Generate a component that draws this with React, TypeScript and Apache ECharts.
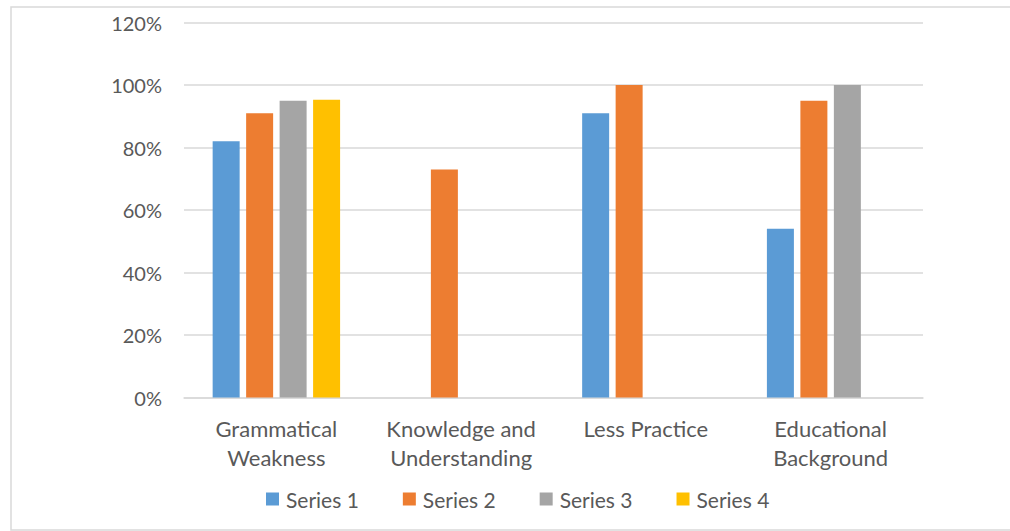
import React, { useEffect, useRef } from "react";
import * as echarts from "echarts";

const categories = [
  "Grammatical\nWeakness",
  "Knowledge and\nUnderstanding",
  "Less Practice",
  "Educational\nBackground",
];
const seriesNames = ["Series 1", "Series 2", "Series 3", "Series 4"];
const series1 = [82, null, 91, 54];
const series2 = [91, 73, 100, 95];
const series3 = [95, null, null, 100];
const series4 = [95.3, null, null, null];
const colors = ["#5B9BD5", "#ED7D31", "#A5A5A5", "#FFC000"];
const yTicks = [0, 20, 40, 60, 80, 100, 120];

const FONT = "Lato, 'Open Sans', sans-serif";
const TEXT = "#595959";

export default function App() {
  const ref = useRef<HTMLDivElement>(null);

  useEffect(() => {
    if (!ref.current) return;
    const chart = echarts.init(ref.current, null, { renderer: "svg" });
    const allData = [series1, series2, series3, series4];
    chart.setOption({
      animation: false,
      backgroundColor: "#ffffff",
      color: colors,
      textStyle: { fontFamily: FONT },
      graphic: [
        {
          type: "rect",
          shape: { x: 11, y: 7, width: 1010, height: 523 },
          style: { fill: "none", stroke: "#d9d9d9", lineWidth: 1.5 },
          silent: true,
        },
      ],
      grid: { left: 184, right: 87, top: 22.5, bottom: 133.5, containLabel: false },
      legend: {
        top: 488,
        left: 266,
        padding: 0,
        itemWidth: 13,
        itemHeight: 13,
        itemGap: 44,
        icon: "rect",
        textStyle: {
          fontSize: 21,
          lineHeight: 22,
          color: TEXT,
          fontFamily: FONT,
          padding: [0, 0, 0, 2],
        },
        data: seriesNames,
      },
      xAxis: {
        type: "category",
        data: categories,
        axisLine: { lineStyle: { color: "#d9d9d9", width: 1.5 } },
        axisTick: { show: false },
        axisLabel: {
          color: TEXT,
          fontSize: 22,
          lineHeight: 29,
          margin: 16,
          interval: 0,
          fontFamily: FONT,
        },
      },
      yAxis: {
        type: "value",
        min: yTicks[0],
        max: yTicks[yTicks.length - 1],
        interval: 20,
        axisLine: { show: false },
        axisTick: { show: false },
        axisLabel: {
          formatter: "{value}%",
          color: TEXT,
          fontSize: 20,
          margin: 22,
          fontFamily: FONT,
        },
        splitLine: { lineStyle: { color: "#d9d9d9", width: 1.5 } },
      },
      series: seriesNames.map((name, i) => ({
        name,
        type: "bar",
        data: allData[i],
        barWidth: 27,
        barGap: "24%",
        itemStyle: { color: colors[i] },
      })),
    });
    return () => chart.dispose();
  }, []);

  return (
    <div
      ref={ref}
      style={{ position: "fixed", left: 0, top: 0, width: 1010, height: 531 }}
    />
  );
}
